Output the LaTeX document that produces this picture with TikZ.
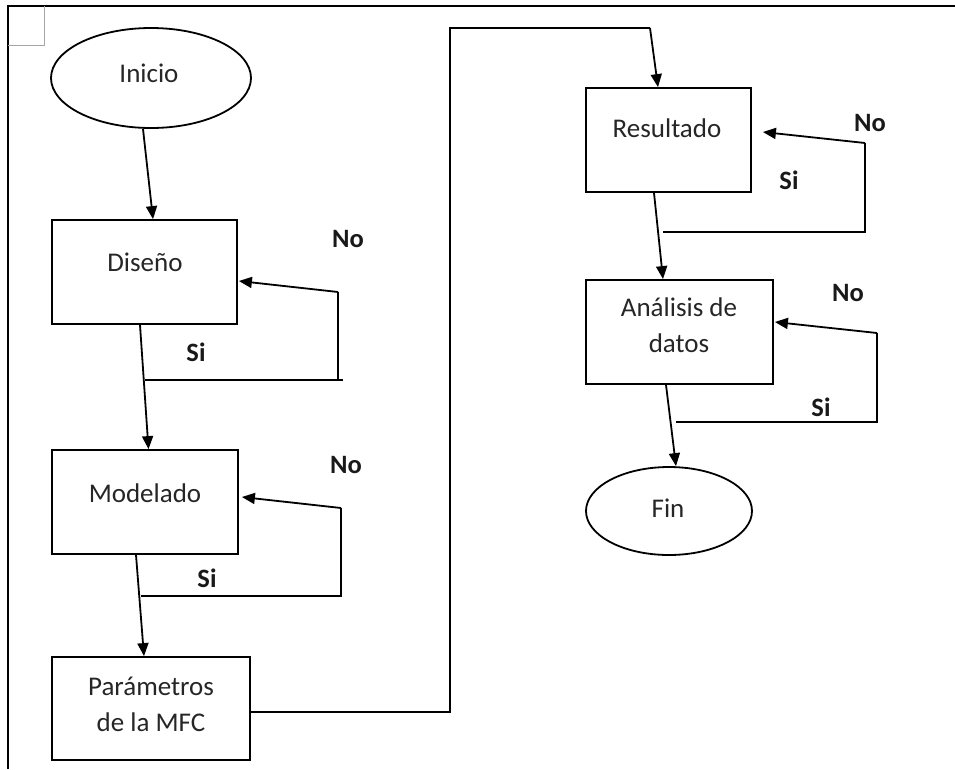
\documentclass[tikz,border=0pt]{standalone}
\usepackage{fontspec}
\setmainfont{Carlito}
\usetikzlibrary{shapes.geometric,arrows.meta,calc}
\begin{document}
\begin{tikzpicture}[x=1pt,y=-1pt,
  line width=1.8pt,
  box/.style={draw, rectangle, inner sep=0pt},
  oval/.style={draw, ellipse, inner sep=0pt},
  txt/.style={font=\fontsize{27}{36}\selectfont, text=black!85, align=center, inner sep=0pt},
  lab/.style={font=\fontsize{26.5}{30}\selectfont\bfseries, text=black!90, inner sep=0pt},
  arr/.style={-{Triangle[length=13pt,width=11pt]}},
  frame/.style={line width=1.6pt}]
\useasboundingbox (0,0) rectangle (955,769);
\fill[white] (0,0) rectangle (955,769);
% outer frame
\draw[frame] (8,769) -- (8,6) -- (955,6);
\draw[line width=1pt, black!35] (8,45) -- (44,45) -- (44,6);
% nodes
\node[oval, minimum width=200pt, minimum height=100pt] (ini) at (151,78) {};
\node[txt] (iniT) at (149,73) {Inicio};
\node[box, minimum width=185pt, minimum height=104pt] (dis) at (144.5,272) {};
\node[txt] (disT) at (145,262) {Diseño};
\node[box, minimum width=186pt, minimum height=104pt] (mod) at (145,502) {};
\node[txt] (modT) at (145,493) {Modelado};
\node[box, minimum width=198pt, minimum height=103pt] (par) at (151,708.5) {};
\node[txt] (parT) at (151,704) {Parámetros\\de la MFC};
\node[box, minimum width=165pt, minimum height=104pt] (res) at (668.5,140) {};
\node[txt] (resT) at (667,128) {Resultado};
\node[box, minimum width=187pt, minimum height=104pt] (ana) at (679.5,332) {};
\node[txt] (anaT) at (679,325) {Análisis de\\datos};
\node[oval, minimum width=166pt, minimum height=88pt] (fin) at (669,511) {};
\node[txt] (finT) at (668,508) {Fin};
% labels
\node[lab] (no1) at (348,239) {No};
\node[lab] (si1) at (196,352) {Si};
\node[lab] (no2) at (346,465) {No};
\node[lab] (si2) at (207,578) {Si};
\node[lab] (no3) at (870,123) {No};
\node[lab] (si3) at (789,180) {Si};
\node[lab] (no4) at (848,293) {No};
\node[lab] (si4) at (821,407) {Si};
% main flow
\draw[arr] ($(ini.south)+(-8,0)$) -- ($(dis.north)+(8.5,0)$);
\draw[arr] ($(dis.south)+(-4.5,0)$) -- ($(mod.north)+(3.5,0)$);
\draw[arr] ($(mod.south)+(-9,0)$) -- ($(par.north)+(-7,0)$);
\coordinate (p1) at (450,712);
\coordinate (p2) at (450,28);
\coordinate (p3) at (650,28);
\draw (par.east |- p1) -- (p1) -- (p2) -- (p3);
\draw[arr] (p3) -- ($(res.north)+(-10.5,0)$);
\draw[arr] ($(res.south)+(-14.5,0)$) -- ($(ana.north)+(-16.5,0)$);
\draw[arr] ($(ana.south)+(-13.5,0)$) -- ($(fin.north)+(7,0)$);
% loops
\coordinate (d1) at (145,380);
\coordinate (d2) at (338,380);
\coordinate (d3) at (338,292);
\draw (d1) -- (343,380);
\draw (d2) -- (d3);
\draw[arr] (d3) -- ($(dis.east)+(1,9)$);
\coordinate (m1) at (141,596);
\coordinate (m2) at (341,596);
\coordinate (m3) at (341,508);
\draw (m1) -- (m2) -- (m3);
\draw[arr] (m3) -- ($(mod.east)+(3,-5)$);
\coordinate (r1) at (663,232);
\coordinate (r2) at (865,232);
\coordinate (r3) at (865,143);
\draw (r1) -- (r2) -- (r3);
\draw[arr] (r3) -- ($(res.east)+(11,-8)$);
\coordinate (a1) at (676,422);
\coordinate (a2) at (877,422);
\coordinate (a3) at (877,333);
\draw (a1) -- (a2) -- (a3);
\draw[arr] (a3) -- ($(ana.east)+(1,-10)$);
\end{tikzpicture}
\end{document}
